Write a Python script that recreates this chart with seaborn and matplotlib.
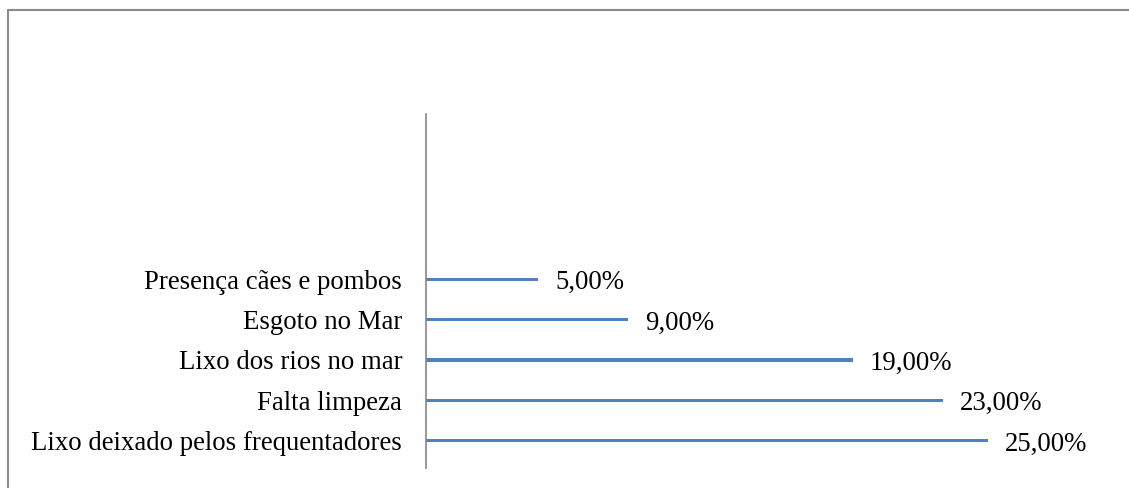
import matplotlib
matplotlib.use("Agg")
import matplotlib.pyplot as plt
import seaborn as sns
import pandas as pd
from matplotlib.lines import Line2D

categories = ["Presença cães e pombos", "Esgoto no Mar", "Lixo dos rios no mar",
              "Falta limpeza", "Lixo deixado pelos frequentadores"]
values = [5.0, 9.0, 19.0, 23.0, 25.0]
value_labels = ["5,00%", "9,00%", "19,00%", "23,00%", "25,00%"]

sns.set_theme(style="white")
plt.rcParams['font.family'] = ['Liberation Serif', 'DejaVu Serif']

W, H = 1129, 488
fig = plt.figure(figsize=(W / 100, H / 100), dpi=100)
x0 = 425.8
px_per_unit = 22.5
xmax = 30
ax = fig.add_axes([x0 / W, (H - 468) / H, (px_per_unit * xmax) / W, (468 - 114) / H])

df = pd.DataFrame({"cat": categories, "val": values})
sns.barplot(data=df, x="val", y="cat", orient="h", color="#4F81BD",
            width=0.085, saturation=1, linewidth=0, ax=ax)

ax.set_xlim(0, xmax)
ax.set_ylim(4.677, -4.097)
ax.set_xlabel("")
ax.set_ylabel("")
ax.xaxis.set_visible(False)
for s in ["top", "right", "bottom"]:
    ax.spines[s].set_visible(False)
ax.spines["left"].set_color("#868686")
ax.spines["left"].set_linewidth(1.2)
ax.tick_params(axis="y", length=0, pad=17, labelsize=19.3, labelcolor="black")
for t in ax.get_yticklabels():
    t.set_fontfamily(['Liberation Serif', 'DejaVu Serif'])

texts = ax.bar_label(ax.containers[0], labels=value_labels, padding=12, fontsize=19.3,
                     color="black", family=['Liberation Serif', 'DejaVu Serif'])
for t in texts:
    t.xyann = (12, -2.5)
ax.patch.set_alpha(0)

# outer frame (top and left edges)
ytop = 1 - 10 / H
fig.add_artist(Line2D([8.3 / W, 1], [ytop, ytop], color="#8a8a8a", linewidth=1.5,
                      transform=fig.transFigure))
fig.add_artist(Line2D([8.3 / W, 8.3 / W], [0, ytop], color="#8a8a8a", linewidth=1.5,
                      transform=fig.transFigure))

fig.savefig("out.png", dpi=100, facecolor="white")
